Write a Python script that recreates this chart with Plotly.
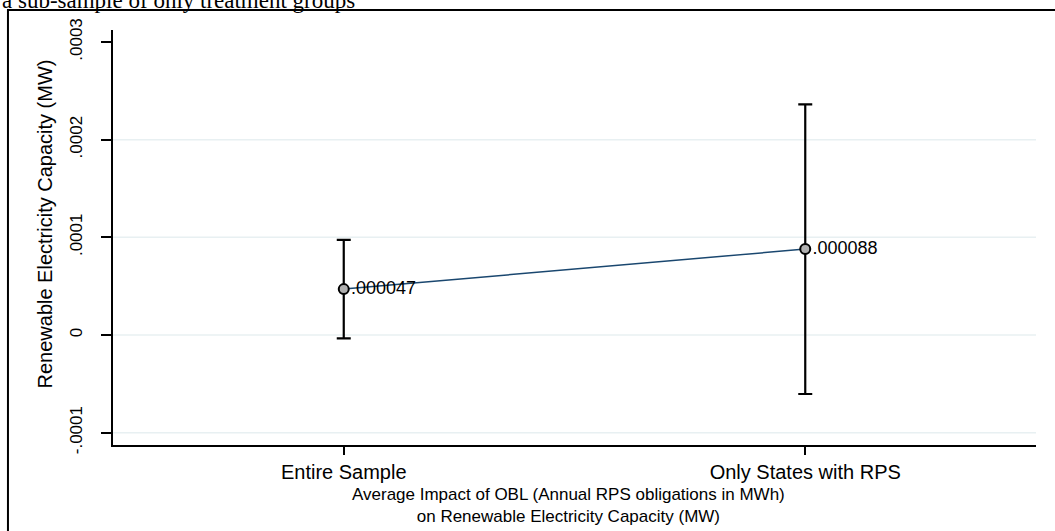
import plotly.graph_objects as go

# Estimates of the average OBL effect with 95% confidence bounds
groups = ["Entire Sample", "Only States with RPS"]
positions = [1, 2]
estimates = [0.000047, 0.000088]
ci_lower = [-0.0000035, -0.0000604]
ci_upper = [0.0000975, 0.0002362]
value_labels = [".000047", ".000088"]

y_ticks = [-0.0001, 0, 0.0001, 0.0002, 0.0003]
y_tick_text = ["-.0001", "0", ".0001", ".0002", ".0003"]
grid_values = [-0.0001, 0, 0.0001, 0.0002]

FONT = "Liberation Sans, Arial, sans-serif"

err_plus = [u - e for u, e in zip(ci_upper, estimates)]
err_minus = [e - l for e, l in zip(estimates, ci_lower)]

fig = go.Figure()

fig.add_trace(go.Scatter(
    x=positions,
    y=estimates,
    mode="lines+markers+text",
    line=dict(color="#1a476f", width=1.5),
    marker=dict(size=10, color="#b0b0b0", line=dict(color="black", width=2)),
    text=value_labels,
    textposition="middle right",
    textfont=dict(family=FONT, size=18, color="black"),
    error_y=dict(
        type="data",
        symmetric=False,
        array=err_plus,
        arrayminus=err_minus,
        color="black",
        thickness=2.2,
        width=7,
    ),
    showlegend=False,
    cliponaxis=False,
))

shapes = []
for g in grid_values:
    shapes.append(dict(
        type="line", xref="paper", yref="y", x0=0, x1=1, y0=g, y1=g,
        line=dict(color="#e8f0f2", width=1.5), layer="below",
    ))

# outer frame around the graph region
shapes.append(dict(
    type="rect", xref="paper", yref="paper",
    x0=-0.1138, x1=1.03, y0=-0.25, y1=1.0482,
    line=dict(color="black", width=2), fillcolor="rgba(0,0,0,0)",
))

annotations = [
    dict(
        text="Renewable Electricity Capacity (MW)",
        xref="paper", yref="paper", x=0, y=0.5,
        xanchor="center", yanchor="middle",
        xshift=-69, yshift=13, textangle=-90,
        showarrow=False,
        font=dict(family=FONT, size=20, color="black"),
    ),
    dict(
        text="Average Impact of OBL (Annual RPS obligations in MWh)<br>"
             "on Renewable Electricity Capacity (MW)",
        xref="paper", yref="paper", x=0.494, y=0,
        xanchor="center", yanchor="middle",
        yshift=-60, showarrow=False,
        font=dict(family=FONT, size=17, color="black"),
    ),
    dict(
        text="a sub-sample of only treatment groups",
        xref="paper", yref="paper", x=-0.1224, y=1,
        xanchor="left", yanchor="bottom", yshift=15,
        showarrow=False,
        font=dict(family="Liberation Serif, Times New Roman, serif", size=23, color="black"),
    ),
]

fig.update_layout(
    width=1055,
    height=531,
    margin=dict(l=113, r=19, t=30, b=86),
    paper_bgcolor="white",
    plot_bgcolor="white",
    shapes=shapes,
    annotations=annotations,
    xaxis=dict(
        range=[0.5, 2.5],
        tickvals=positions,
        ticktext=groups,
        showgrid=False,
        zeroline=False,
        showline=True,
        linecolor="black",
        linewidth=1.5,
        ticks="outside",
        ticklen=8,
        tickwidth=1.5,
        tickcolor="black",
        tickfont=dict(family=FONT, size=20, color="black"),
    ),
    yaxis=dict(
        range=[-0.0001126, 0.0003123],
        tickvals=y_ticks,
        ticktext=y_tick_text,
        tickangle=-90,
        showgrid=False,
        zeroline=False,
        showline=True,
        linecolor="black",
        linewidth=1.5,
        ticks="outside",
        ticklen=10,
        tickwidth=1.5,
        tickcolor="black",
        ticklabelstandoff=12,
        tickfont=dict(family=FONT, size=17, color="black"),
    ),
)

fig.write_html("out.html")
